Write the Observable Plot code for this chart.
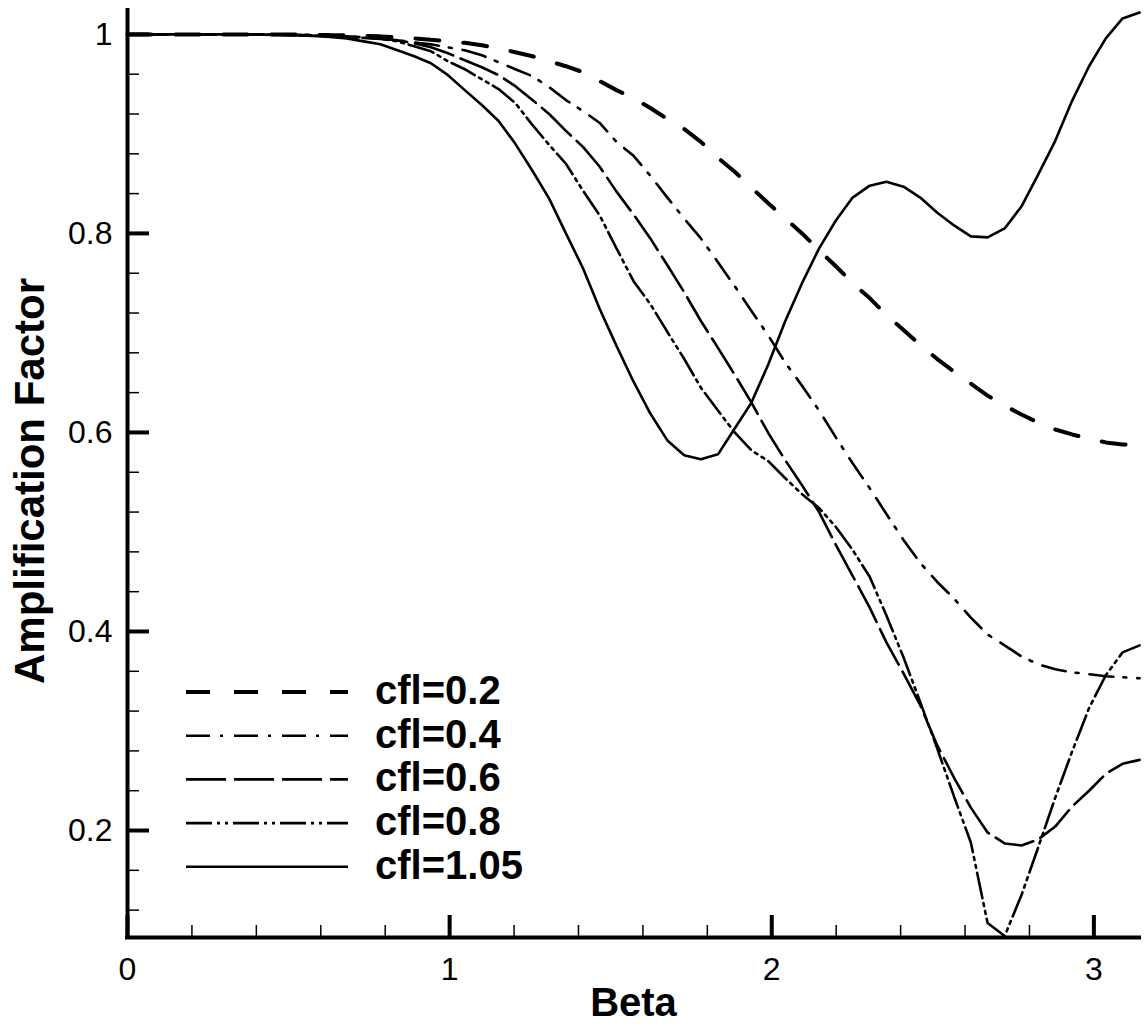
<!DOCTYPE html>
<html>
<head>
<meta charset="utf-8">
<script src="https://cdn.jsdelivr.net/npm/d3@7"></script>
<script src="https://cdn.jsdelivr.net/npm/@observablehq/plot@0.6"></script>
<style>
  body { margin: 0; background: #fff; }
  svg { display: block; }
</style>
</head>
<body>
<div id="chart"></div>
<script>
// Beta grid (x values)
const beta = [0.000, 0.052, 0.105, 0.157, 0.209, 0.262, 0.314, 0.367, 0.419, 0.471,
  0.524, 0.576, 0.628, 0.681, 0.733, 0.785, 0.838, 0.890, 0.942, 0.995,
  1.047, 1.100, 1.152, 1.204, 1.257, 1.309, 1.361, 1.414, 1.466, 1.518,
  1.571, 1.623, 1.676, 1.728, 1.780, 1.833, 1.885, 1.937, 1.990, 2.042,
  2.094, 2.147, 2.199, 2.251, 2.304, 2.356, 2.409, 2.461, 2.513, 2.566,
  2.618, 2.670, 2.723, 2.775, 2.827, 2.880, 2.932, 2.985, 3.037, 3.089, 3.142];

const cfl02 = [1.000, 1.000, 1.000, 1.000, 1.000, 1.000, 1.000, 1.000, 1.000, 1.000,
  0.9998, 0.9996, 0.9993, 0.999, 0.9985, 0.998, 0.997, 0.996, 0.9945, 0.993,
  0.9915, 0.989, 0.986, 0.982, 0.978, 0.973, 0.968, 0.962, 0.953, 0.944,
  0.936, 0.926, 0.915, 0.905, 0.892, 0.876, 0.862, 0.846, 0.830, 0.815,
  0.800, 0.783, 0.767, 0.750, 0.735, 0.718, 0.703, 0.688, 0.674, 0.661,
  0.649, 0.637, 0.627, 0.618, 0.610, 0.603, 0.598, 0.594, 0.590, 0.588, 0.587];

const cfl04 = [1.000, 1.000, 1.000, 1.000, 1.000, 1.000, 1.000, 1.000, 1.000, 1.000,
  0.9997, 0.9994, 0.999, 0.998, 0.997, 0.996, 0.994, 0.992, 0.990, 0.987,
  0.984, 0.979, 0.972, 0.965, 0.958, 0.947, 0.934, 0.923, 0.911, 0.892,
  0.878, 0.858, 0.836, 0.815, 0.795, 0.771, 0.747, 0.722, 0.697, 0.670,
  0.647, 0.622, 0.595, 0.569, 0.544, 0.518, 0.492, 0.469, 0.450, 0.433,
  0.414, 0.397, 0.386, 0.375, 0.367, 0.362, 0.359, 0.357, 0.355, 0.354, 0.353];

const cfl06 = [1.000, 1.000, 1.000, 1.000, 1.000, 1.000, 1.000, 1.000, 1.000, 0.9998,
  0.9995, 0.999, 0.9985, 0.998, 0.997, 0.996, 0.994, 0.991, 0.987, 0.981,
  0.974, 0.967, 0.959, 0.948, 0.934, 0.920, 0.903, 0.887, 0.867, 0.842,
  0.819, 0.795, 0.768, 0.741, 0.712, 0.685, 0.658, 0.630, 0.599, 0.572,
  0.547, 0.520, 0.487, 0.456, 0.424, 0.389, 0.358, 0.326, 0.286, 0.253,
  0.223, 0.198, 0.187, 0.185, 0.191, 0.204, 0.224, 0.240, 0.257, 0.267, 0.271];

const cfl08 = [1.000, 1.000, 1.000, 1.000, 1.000, 1.000, 1.000, 1.000, 1.000, 0.9997,
  0.9993, 0.999, 0.998, 0.997, 0.9965, 0.9955, 0.993, 0.988, 0.983, 0.973,
  0.965, 0.955, 0.945, 0.931, 0.909, 0.889, 0.870, 0.843, 0.818, 0.785,
  0.752, 0.729, 0.701, 0.674, 0.645, 0.622, 0.600, 0.582, 0.571, 0.554,
  0.538, 0.524, 0.505, 0.482, 0.455, 0.416, 0.374, 0.329, 0.283, 0.234,
  0.188, 0.107, 0.094, 0.135, 0.183, 0.233, 0.279, 0.323, 0.356, 0.379, 0.386];

const cfl105 = [1.000, 1.000, 1.000, 1.000, 1.000, 1.000, 1.000, 1.000, 0.9998, 0.9995,
  0.999, 0.9985, 0.9975, 0.996, 0.993, 0.990, 0.984, 0.978, 0.971, 0.959,
  0.944, 0.929, 0.913, 0.890, 0.863, 0.835, 0.800, 0.765, 0.724, 0.687,
  0.651, 0.619, 0.592, 0.577, 0.573, 0.578, 0.604, 0.630, 0.669, 0.712,
  0.750, 0.785, 0.813, 0.836, 0.848, 0.852, 0.847, 0.836, 0.821, 0.808,
  0.797, 0.796, 0.805, 0.827, 0.859, 0.893, 0.933, 0.968, 0.996, 1.016, 1.022];

const seriesNames = ["cfl=0.2", "cfl=0.4", "cfl=0.6", "cfl=0.8", "cfl=1.05"];
const seriesValues = [cfl02, cfl04, cfl06, cfl08, cfl105];

const xMajor = [0, 1, 2, 3];
const xMinor = [0.2, 0.4, 0.6, 0.8, 1.2, 1.4, 1.6, 1.8, 2.2, 2.4, 2.6, 2.8];
const yMajor = [0.2, 0.4, 0.6, 0.8, 1];
const yMinor = [0.12, 0.16, 0.24, 0.28, 0.32, 0.36, 0.44, 0.48, 0.52, 0.56,
  0.64, 0.68, 0.72, 0.76, 0.84, 0.88, 0.92, 0.96];
const xDomain = [0, Math.PI];
const yDomain = [0.0925, 1.024];

// styles (kept separate from data)
const lineStyles = [
  {dash: "24,24", width: 4},
  {dash: "24,10,3,11", width: 2.6},
  {dash: "40,8", width: 2.6},
  {dash: "26,5,3,5,3,5", width: 2.6},
  {dash: null, width: 2.6}
];

const W = 1144, H = 1036;
const mL = 127, mR = 5, mT = 10, mB = 99;
const plotW = W - mL - mR, plotH = H - mT - mB;
const FONT = "'Liberation Sans', Arial, Helvetica, sans-serif";

const lineMarks = seriesValues.map((vals, s) =>
  Plot.line(beta.map((b, i) => ({b, v: vals[i]})), {
    x: "b", y: "v", stroke: "black",
    strokeWidth: lineStyles[s].width,
    strokeDasharray: lineStyles[s].dash ?? undefined,
    strokeLinejoin: "miter"
  })
);

const chart = Plot.plot({
  width: W, height: H,
  marginLeft: mL, marginRight: mR, marginTop: mT, marginBottom: mB,
  style: {fontFamily: FONT, background: "white", color: "black"},
  x: {domain: xDomain},
  y: {domain: yDomain},
  marks: [
    ...lineMarks,
    Plot.tickX(xMinor, {x: d => d, insetTop: plotH - 12, strokeWidth: 1.5, stroke: "black"}),
    Plot.tickX(xMajor, {x: d => d, insetTop: plotH - 22, strokeWidth: 4, stroke: "black"}),
    Plot.tickY(yMinor, {y: d => d, insetRight: plotW - 12, strokeWidth: 1.5, stroke: "black"}),
    Plot.tickY(yMajor, {y: d => d, insetRight: plotW - 22, strokeWidth: 4, stroke: "black"}),
    Plot.ruleX([xDomain[0]], {strokeWidth: 4, stroke: "black", strokeLinecap: "square"}),
    Plot.ruleY([yDomain[0]], {strokeWidth: 4, stroke: "black", strokeLinecap: "square"}),
    Plot.axisX({ticks: xMajor, tickSize: 0, tickPadding: 20, fontSize: 32, label: null, tickFormat: d => String(d)}),
    Plot.axisY({ticks: yMajor, tickSize: 0, tickPadding: 15, fontSize: 32, label: null, tickFormat: d => String(d)}),
    Plot.text(["Beta"], {text: d => d, frameAnchor: "bottom", textAnchor: "middle", dy: 66, fontSize: 40, fontWeight: "bold", lineAnchor: "middle"}),
    Plot.text(["Amplification Factor"], {text: d => d, frameAnchor: "left", textAnchor: "middle", rotate: -90, dx: -97, dy: 7, fontSize: 42, fontWeight: "bold", lineAnchor: "middle"})
  ]
});

// Legend inside plot area (drawn onto the Plot SVG)
const svg = d3.select(chart);
const lg = svg.append("g").attr("font-family", FONT).attr("text-anchor", "start");
seriesNames.forEach((name, i) => {
  const y = 692 + i * 43.7;
  const ln = lg.append("line")
    .attr("x1", 186).attr("x2", 348).attr("y1", y).attr("y2", y)
    .attr("stroke", "black").attr("stroke-width", lineStyles[i].width);
  if (lineStyles[i].dash) ln.attr("stroke-dasharray", lineStyles[i].dash);
  lg.append("text")
    .attr("x", 375).attr("y", y + 12)
    .attr("text-anchor", "start")
    .attr("font-size", 40).attr("font-weight", "bold").attr("fill", "black")
    .text(name);
});

document.getElementById("chart").appendChild(chart);
</script>
</body>
</html>
